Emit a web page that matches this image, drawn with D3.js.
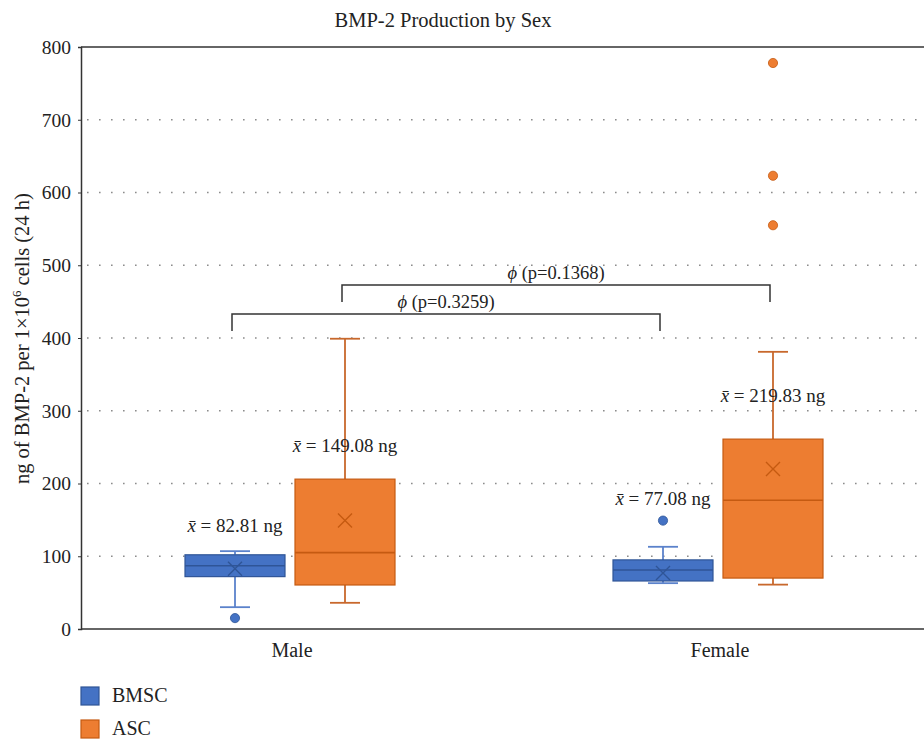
<!DOCTYPE html>
<html>
<head>
<meta charset="utf-8">
<script src="https://cdn.jsdelivr.net/npm/d3@7"></script>
<style>
  html, body { margin: 0; padding: 0; background: #fff; }
  svg { display: block; font-family: "Liberation Serif", "DejaVu Serif", serif; }
</style>
</head>
<body>
<svg id="chart" width="924" height="739"></svg>
<script>
// Categories and series
const categories = ["Male", "Female"];
const seriesNames = ["BMSC", "ASC"];
const yTicks = [0, 100, 200, 300, 400, 500, 600, 700, 800];

// Five-number summaries, means and outliers (ng), ordered Male, Female
const bmscLow = [30, 63];
const bmscQ1 = [72, 66];
const bmscMedian = [87, 81];
const bmscQ3 = [102, 95];
const bmscHigh = [107, 113];
const bmscMean = [82.81, 77.08];
const bmscOutliers = [[15], [149]];

const ascLow = [36, 61];
const ascQ1 = [60.5, 70];
const ascMedian = [105, 177];
const ascQ3 = [206, 261];
const ascHigh = [399, 381];
const ascMean = [149.08, 219.83];
const ascOutliers = [[], [555, 623, 778]];

// Height (ng) at which each mean label sits
const bmscLabelAt = [133, 170];
const ascLabelAt = [243, 312];

// Male vs Female comparisons within each cell type
const compareSeries = ["BMSC", "ASC"];
const compareP = ["0.3259", "0.1368"];
const compareLevel = [433, 473];

const colors = {
  BMSC: { fill: "#4472C4", stroke: "#2F5597", whisker: "#5B82CB", mark: "#2F5597" },
  ASC:  { fill: "#ED7D31", stroke: "#C55A11", whisker: "#C8682C", mark: "#C55A11" }
};

const stats = {
  BMSC: categories.map((c, i) => ({ cat: c, low: bmscLow[i], q1: bmscQ1[i], med: bmscMedian[i], q3: bmscQ3[i], high: bmscHigh[i], mean: bmscMean[i], out: bmscOutliers[i], labelAt: bmscLabelAt[i] })),
  ASC: categories.map((c, i) => ({ cat: c, low: ascLow[i], q1: ascQ1[i], med: ascMedian[i], q3: ascQ3[i], high: ascHigh[i], mean: ascMean[i], out: ascOutliers[i], labelAt: ascLabelAt[i] }))
};

const svg = d3.select("#chart");
const plotLeft = 81, plotTop = 47, plotBottom = 629, plotRight = 924;
const serif = "Liberation Serif, DejaVu Serif, serif";

const y = d3.scaleLinear().domain([0, 800]).range([plotBottom, plotTop]);
const x = d3.scaleBand().domain(categories).range([76, 932]);
const xs = d3.scaleBand().domain(seriesNames).range([-105, 105]).paddingInner(1 / 11);
const cx = (cat, s) => x(cat) + x.bandwidth() / 2 + xs(s) + xs.bandwidth() / 2;

// Title
svg.append("text")
  .attr("x", 443).attr("y", 27)
  .attr("text-anchor", "middle")
  .attr("font-size", 20.5).attr("fill", "#222")
  .text("BMP-2 Production by Sex");

// Dotted gridlines
svg.append("g").selectAll("line")
  .data(yTicks.filter(t => t > 0 && t < 800))
  .join("line")
  .attr("x1", plotLeft + 6).attr("x2", plotRight)
  .attr("y1", d => y(d)).attr("y2", d => y(d))
  .attr("stroke", "#8c8c8c").attr("stroke-width", 1.6)
  .attr("stroke-dasharray", "1.6,10.4");

// Top frame line
svg.append("line")
  .attr("x1", plotLeft).attr("x2", plotRight)
  .attr("y1", y(800)).attr("y2", y(800))
  .attr("stroke", "#333").attr("stroke-width", 1.5);

// Y axis
const yAxis = svg.append("g")
  .attr("transform", `translate(${plotLeft},0)`)
  .call(d3.axisLeft(y).tickValues(yTicks).tickSize(3).tickPadding(7));
yAxis.select(".domain").attr("stroke", "#333").attr("stroke-width", 1.5);
yAxis.selectAll(".tick line").attr("stroke", "#333");
yAxis.selectAll(".tick text")
  .attr("font-family", serif)
  .attr("font-size", 19.5).attr("fill", "#222");

// X axis
const xAxis = svg.append("g")
  .attr("transform", `translate(0,${plotBottom})`)
  .call(d3.axisBottom(x).tickSize(0).tickPadding(14));
xAxis.select(".domain").remove();
xAxis.selectAll(".tick text")
  .attr("font-family", serif)
  .attr("font-size", 20).attr("fill", "#222")
  .attr("dx", 2);
svg.append("line")
  .attr("x1", plotLeft).attr("x2", plotRight)
  .attr("y1", plotBottom).attr("y2", plotBottom)
  .attr("stroke", "#333").attr("stroke-width", 1.5);

// Y axis title
svg.append("text")
  .attr("transform", "translate(29,484) rotate(-90)")
  .attr("text-anchor", "start")
  .attr("font-size", 20.5).attr("fill", "#222")
  .call(t => {
    t.append("tspan").text("ng of BMP-2 per 1×10");
    t.append("tspan").attr("dy", -8).attr("font-size", 13).text("6");
    t.append("tspan").attr("dy", 8).text(" cells (24 h)");
  });

// Box plots
seriesNames.forEach(s => {
  const col = colors[s];
  const g = svg.append("g");
  const w = xs.bandwidth();
  const capW = 30;
  stats[s].forEach(d => {
    const c = cx(d.cat, s);
    const gg = g.append("g");
    // whiskers
    gg.append("line").attr("x1", c).attr("x2", c).attr("y1", y(d.high)).attr("y2", y(d.q3))
      .attr("stroke", col.whisker).attr("stroke-width", 1.8);
    gg.append("line").attr("x1", c).attr("x2", c).attr("y1", y(d.q1)).attr("y2", y(d.low))
      .attr("stroke", col.whisker).attr("stroke-width", 1.8);
    [d.high, d.low].forEach(v => {
      gg.append("line").attr("x1", c - capW / 2).attr("x2", c + capW / 2)
        .attr("y1", y(v)).attr("y2", y(v))
        .attr("stroke", col.whisker).attr("stroke-width", 1.8);
    });
    // box
    gg.append("rect")
      .attr("x", c - w / 2).attr("width", w)
      .attr("y", y(d.q3)).attr("height", y(d.q1) - y(d.q3))
      .attr("fill", col.fill).attr("stroke", col.stroke).attr("stroke-width", 1.2);
    // median
    gg.append("line").attr("x1", c - w / 2).attr("x2", c + w / 2)
      .attr("y1", y(d.med)).attr("y2", y(d.med))
      .attr("stroke", col.stroke).attr("stroke-width", 1.6);
    // mean marker
    const m = 7, my = y(d.mean);
    gg.append("path")
      .attr("d", `M${c - m},${my - m}L${c + m},${my + m}M${c - m},${my + m}L${c + m},${my - m}`)
      .attr("stroke", col.mark).attr("stroke-width", 1.4).attr("fill", "none");
    // outliers
    gg.selectAll("circle").data(d.out).join("circle")
      .attr("cx", c).attr("cy", v => y(v)).attr("r", 4.6)
      .attr("fill", col.fill).attr("stroke", col.stroke).attr("stroke-width", 0.8);
    // mean label
    const lbl = gg.append("text")
      .attr("x", c).attr("y", y(d.labelAt))
      .attr("text-anchor", "middle")
      .attr("font-size", 19).attr("fill", "#222");
    lbl.append("tspan").attr("font-style", "italic").text("x\u0304");
    lbl.append("tspan").text(" = " + d.mean.toFixed(2) + " ng");
  });
});

// Significance brackets between Male and Female of the same cell type
compareSeries.forEach((s, i) => {
  const x1 = cx(categories[0], s) - 3;
  const x2 = cx(categories[1], s) - 3;
  const ly = y(compareLevel[i]);
  svg.append("path")
    .attr("d", `M${x1},${ly + 17}V${ly}H${x2}V${ly + 17}`)
    .attr("fill", "none").attr("stroke", "#333").attr("stroke-width", 1.5);
  const t = svg.append("text")
    .attr("x", (x1 + x2) / 2).attr("y", ly - 6)
    .attr("text-anchor", "middle")
    .attr("font-size", 18.5).attr("fill", "#222");
  t.append("tspan").attr("font-style", "italic").text("\u03D5");
  t.append("tspan").text(" (p=" + compareP[i] + ")");
});

// Legend
const legend = svg.append("g").attr("transform", "translate(81,687)");
seriesNames.forEach((s, i) => {
  const row = legend.append("g").attr("transform", `translate(0,${i * 33})`);
  row.append("rect").attr("width", 18).attr("height", 18)
    .attr("fill", colors[s].fill).attr("stroke", colors[s].stroke).attr("stroke-width", 1.2);
  row.append("text").attr("x", 31).attr("y", 15)
    .attr("font-size", 20).attr("fill", "#222").text(s);
});
</script>
</body>
</html>
